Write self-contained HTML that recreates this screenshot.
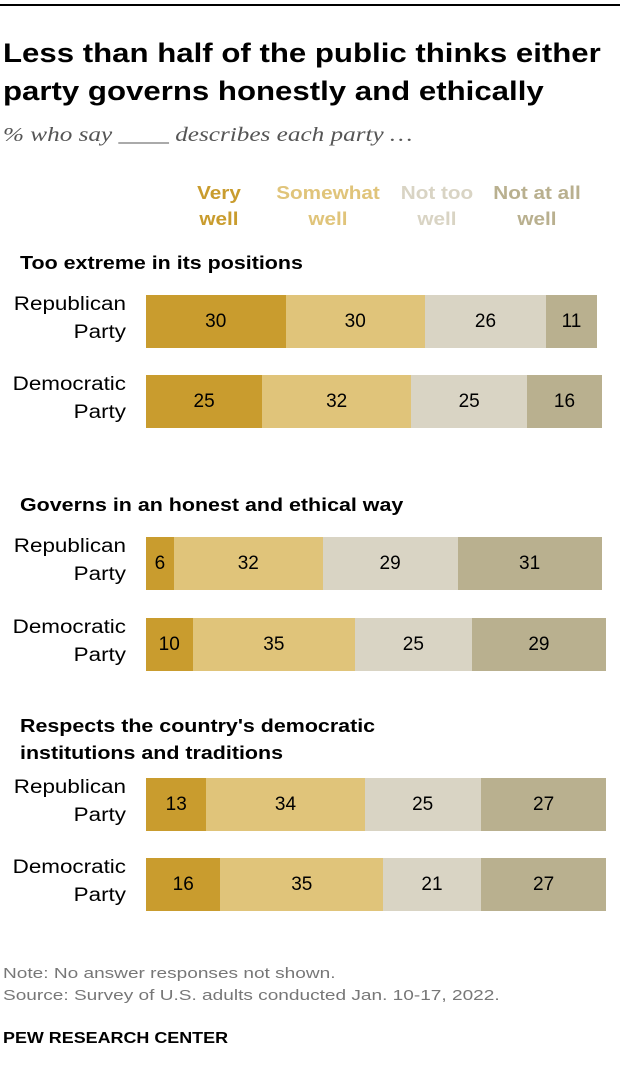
<!DOCTYPE html>
<html><head><meta charset="utf-8"><style>
body{margin:0;width:620px;height:1086px;background:#fff;font-family:"Liberation Sans",Arial,sans-serif;position:relative;overflow:hidden}
.a{position:absolute}
</style></head><body>
<div class="a" style="left:0;top:4px;width:620px;height:2px;background:#000"></div>
<div class="a" style="left:3px;top:34px;font-size:27px;font-weight:bold;line-height:38px;color:#000;transform:scaleX(1.155);transform-origin:left top;white-space:nowrap">Less than half of the public thinks either<br>party governs honestly and ethically</div>
<div class="a" style="left:3px;top:124px;font-size:20px;font-style:italic;color:#555;font-family:'Liberation Serif',serif;transform:scaleX(1.26);transform-origin:left top;white-space:nowrap">% who say ____ describes each party …</div>
<div class="a" style="left:180px;top:180px;width:78px;text-align:center;font-size:18px;font-weight:bold;line-height:26px;color:#c99c2e;transform:scaleX(1.15)">Very<br>well</div>
<div class="a" style="left:270px;top:180px;width:116px;text-align:center;font-size:18px;font-weight:bold;line-height:26px;color:#e0c47a;transform:scaleX(1.15)">Somewhat<br>well</div>
<div class="a" style="left:392px;top:180px;width:90px;text-align:center;font-size:18px;font-weight:bold;line-height:26px;color:#d9d4c4;transform:scaleX(1.15)">Not too<br>well</div>
<div class="a" style="left:487px;top:180px;width:100px;text-align:center;font-size:18px;font-weight:bold;line-height:26px;color:#b9b08f;transform:scaleX(1.15)">Not at all<br>well</div>
<div id="chart"></div>
<div class="a" style="left:3px;top:963px;font-size:15px;color:#777;line-height:22px;transform:scaleX(1.27);transform-origin:left top;white-space:nowrap">Note: No answer responses not shown.<br>Source: Survey of U.S. adults conducted Jan. 10-17, 2022.</div>
<div class="a" style="left:3px;top:1030px;font-size:16px;font-weight:bold;color:#000;transform:scaleX(1.12);transform-origin:left top;white-space:nowrap">PEW RESEARCH CENTER</div>
<script>
const questions=["Too extreme in its positions","Governs in an honest and ethical way","Respects the country's democratic<br>institutions and traditions"];
const parties=["Republican<br>Party","Democratic<br>Party"];
const veryWell=[30,25,6,10,13,16];
const somewhatWell=[30,32,32,35,34,35];
const notTooWell=[26,25,29,25,25,21];
const notAtAllWell=[11,16,31,29,27,27];
const series=[veryWell,somewhatWell,notTooWell,notAtAllWell];
const colors=["#c99c2e","#e0c47a","#d9d4c4","#b9b08f"];
const x0=146,scale=4.65;
const groupTop=[250,492,713];
const barY=[[295,375],[537,618],[778,858]];
const c=document.getElementById('chart');
function x(v){return v*scale;}
questions.forEach((q,gi)=>{
  const t=document.createElement('div');t.className='a';
  
  
  t.style.cssText=`left:20px;top:${groupTop[gi]}px;font-size:18px;font-weight:bold;line-height:27px;color:#000;transform:scaleX(1.19);transform-origin:left top;white-space:nowrap`;
  t.innerHTML=q;c.appendChild(t);
  parties.forEach((p,pi)=>{
    const i=gi*2+pi,y=barY[gi][pi];
    const l=document.createElement('div');l.className='a';
    
    
    l.style.cssText=`left:0;width:126px;top:${y-4}px;text-align:right;font-size:19px;line-height:28px;color:#000;transform:scaleX(1.18);transform-origin:right top;white-space:nowrap`;
    l.innerHTML=p;c.appendChild(l);
    let cx=x0;
    series.forEach((s,si)=>{
      const w=x(s[i]);
      const b=document.createElement('div');b.className='a';
      
      
      b.style.cssText=`left:${cx}px;top:${y}px;width:${w}px;height:53px;background:${colors[si]};display:flex;align-items:center;justify-content:center;font-size:19px;color:#000`;
      b.textContent=s[i];c.appendChild(b);cx+=w;
    });
  });
});
</script>
</body></html>
